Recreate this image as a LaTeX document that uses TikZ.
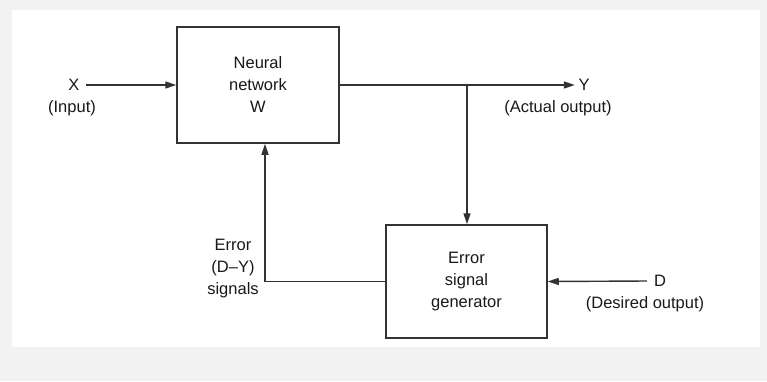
\documentclass[tikz,border=0pt]{standalone}
\usepackage{fontspec}
\setmainfont{Liberation Sans}
\usetikzlibrary{arrows.meta}
\begin{document}
\begin{tikzpicture}[x=1pt,y=-1pt,
  every node/.style={font=\fontsize{16.5}{22}\selectfont, text=black!90},
  blk/.style={draw=black!80, line width=1.5pt, align=center},
  lbl/.style={inner sep=3pt, align=center},
  conn/.style={draw=black!80, line width=1.4pt},
  arr/.style={conn, -{Triangle[length=11pt,width=7pt]}}]
\useasboundingbox (0,0) rectangle (767,381);
\fill[black!5] (0,0) rectangle (767,381);
\fill[white] (12,10) rectangle (760,347);
% blocks
\node[blk, minimum width=162pt, minimum height=116pt] (nn) at (258,85) {Neural\\network\\W};
\node[blk, minimum width=161pt, minimum height=113pt] (err) at (466.5,281.5) {Error\\signal\\generator};
% labels
\node[lbl, inner xsep=6.5pt] (x) at (74,85) {X};
\node[lbl] (xin) at (72,108) {(Input)};
\node[lbl, inner xsep=3.5pt] (y) at (584,85) {Y};
\node[lbl] (yout) at (558,108) {(Actual output)};
\node[lbl, inner xsep=7pt] (d) at (660,281) {D};
\node[lbl] (dout) at (645,304) {(Desired output)};
\node[lbl] (esig) at (233,269) {Error\\(D–Y)\\signals};
% coordinates
\coordinate (j) at (467,85);
\coordinate (fb) at (265,281.5);
% connectors
\draw[arr] (x.east) -- (nn.west);
\draw[arr] (nn.east) -- (y.west);
\draw[arr] (j) -- (j |- err.north);
\draw[arr] (d.west) -- (err.east);
\draw[conn] (err.west) -- (fb);
\draw[arr] (fb) -- (fb |- nn.south);
\end{tikzpicture}
\end{document}
